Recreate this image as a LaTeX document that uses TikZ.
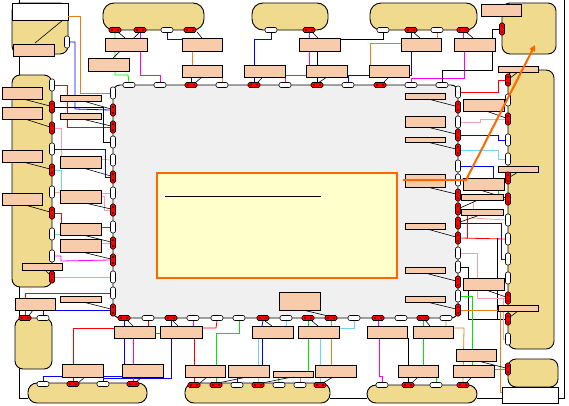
\documentclass[tikz,border=0pt]{standalone}
\usetikzlibrary{fit,arrows.meta}
\definecolor{tanc}{RGB}{240,218,142}
\definecolor{peachc}{RGB}{248,204,170}
\definecolor{grayc}{RGB}{240,240,240}
\definecolor{notec}{RGB}{255,255,204}
\definecolor{orn}{RGB}{255,102,0}
\definecolor{colO}{RGB}{230,130,20}
\definecolor{colC}{RGB}{110,215,240}
\definecolor{colP}{RGB}{245,160,170}
\definecolor{colG}{RGB}{0,230,0}
\definecolor{colM}{RGB}{255,0,255}
\pgfdeclarelayer{bglayer}
\pgfdeclarelayer{wirelayer}
\pgfsetlayers{bglayer,wirelayer,main}
\tikzset{
  tanbox/.style={draw=black, line width=0.9pt, fill=tanc, rounded corners=8pt, inner sep=0pt},
  whitebox/.style={draw=black, line width=0.9pt, fill=white, inner sep=0pt},
  corebox/.style={draw=black, line width=0.9pt, fill=grayc, rounded corners=7pt, inner sep=0pt},
  notebox/.style={draw=orn, line width=2pt, fill=notec, inner sep=0pt},
  peach/.style={draw=black, line width=0.9pt, fill=peachc, inner sep=0pt},
  redh/.style={rectangle, rounded corners=1.5pt, draw=black, line width=0.6pt, fill=red,
    minimum width=12pt, minimum height=5pt, inner sep=0pt,
    path picture={\fill[black] ([xshift=-3pt]path picture bounding box.center) circle (0.9pt);
                  \fill[black] ([xshift=3pt]path picture bounding box.center) circle (0.9pt);}},
  redv/.style={rectangle, rounded corners=1.5pt, draw=black, line width=0.6pt, fill=red,
    minimum width=5pt, minimum height=12pt, inner sep=0pt,
    path picture={\fill[black] ([yshift=-3pt]path picture bounding box.center) circle (0.9pt);
                  \fill[black] ([yshift=3pt]path picture bounding box.center) circle (0.9pt);}},
  whth/.style={rectangle, rounded corners=2pt, draw=black, line width=0.6pt, fill=white,
    minimum width=12pt, minimum height=5pt, inner sep=0pt},
  whtv/.style={rectangle, rounded corners=2pt, draw=black, line width=0.6pt, fill=white,
    minimum width=5pt, minimum height=12pt, inner sep=0pt},
  wire/.style={line width=0.8pt},
  kK/.style={wire, black}, kR/.style={wire, red}, kB/.style={wire, blue},
  kG/.style={wire, colG}, kM/.style={wire, colM}, kC/.style={wire, colC},
  kP/.style={wire, colP}, kO/.style={wire, colO},
  call/.style={line width=0.6pt, black}
}
\newcommand{\bx}[5]{\node[peach, fit={(#2,#3) (#4,#5)}] (#1) {};}
\newcommand{\prh}[3]{\node[redh] (#1) at (#2,#3) {};}
\newcommand{\prv}[3]{\node[redv] (#1) at (#2,#3) {};}
\newcommand{\pwh}[3]{\node[whth] (#1) at (#2,#3) {};}
\newcommand{\pwv}[3]{\node[whtv] (#1) at (#2,#3) {};}
\begin{document}
\begin{tikzpicture}[x=1pt,y=-1pt]
\useasboundingbox (0,0) rectangle (569,405);
\begin{pgfonlayer}{bglayer}
\fill[white] (0,0) rectangle (569,405);
% frame lines
\draw[kK] (19,0) -- (19,398) -- (28,398);
\draw[kK] (330,398) -- (367,398);
\draw[kK] (477,398) -- (502,398);
\draw[kK] (558,398) -- (564,398) -- (564,0);
% tan shapes
\node[tanbox, fit={(12,3) (68,54)}] (tlt) {};
\node[whitebox, fit={(12,3) (68,20)}] (tlh) {};
\node[tanbox, fit={(12,75) (52,287)}] (lt) {};
\node[tanbox, fit={(15,318) (52,369)}] (st) {};
\node[tanbox, rounded corners=9pt, fit={(28,383) (147,403)}] (bar1) {};
\node[tanbox, rounded corners=9pt, fit={(185,383) (330,403)}] (bar2) {};
\node[tanbox, rounded corners=9pt, fit={(367,385) (477,403)}] (bar3) {};
\node[tanbox, rounded corners=11pt, fit={(103,3) (204,30)}] (top1) {};
\node[tanbox, rounded corners=11pt, fit={(252,3) (328,30)}] (top2) {};
\node[tanbox, rounded corners=11pt, fit={(370,3) (477,30)}] (top3) {};
\node[tanbox, fit={(502,3) (556,54)}] (trt) {};
\node[tanbox, fit={(508,70) (554,349)}] (rt) {};
\node[tanbox, fit={(508,359) (558,387)}] (rbt) {};
\node[whitebox, fit={(502,387) (558,403)}] (wbr) {};
% core
\node[corebox, fit={(113,85) (458,318)}] (core) {};
\node[notebox, fit={(157,173) (397,278)}] (note) {};
\draw[kK] (165,196) -- (321,196);
\end{pgfonlayer}
% boxes
\bx{tl}{13}{44}{54}{56}
\bx{trb}{481}{4}{521}{16}
\bx{bA}{105}{38}{147}{51}\bx{bB}{88}{58}{129}{71}\bx{bC}{182}{38}{222}{51}
\bx{bD}{182}{65}{222}{77}\bx{bE}{244}{65}{285}{77}\bx{bF}{299}{38}{340}{51}
\bx{bG}{306}{65}{347}{77}\bx{bH}{369}{65}{409}{77}\bx{bI}{401}{38}{441}{51}
\bx{bJ}{454}{38}{495}{51}
\bx{lA}{2}{87}{42}{99}\bx{lB}{2}{107}{42}{119}\bx{lC}{2}{150}{42}{162}
\bx{lD}{2}{193}{42}{205}\bx{lE}{22}{263}{62}{270}
\bx{mA}{60}{95}{101}{101}\bx{mB}{60}{113}{101}{119}\bx{mC}{60}{156}{101}{168}
\bx{mD}{60}{190}{101}{203}\bx{mE}{60}{223}{101}{235}\bx{mF}{60}{239}{101}{252}
\bx{mG}{60}{296}{101}{302}\bx{mH}{15}{298}{55}{310}
\bx{iA}{405}{93}{445}{99}\bx{iB}{405}{116}{445}{127}\bx{iC}{405}{137}{445}{142}
\bx{iD}{405}{174}{445}{187}\bx{iE}{405}{223}{445}{229}\bx{iF}{405}{267}{445}{273}
\bx{iG}{405}{296}{445}{302}\bx{iH}{279}{292}{320}{310}
\bx{rA}{498}{66}{538}{72}\bx{rB}{463}{99}{504}{111}\bx{rC}{498}{166}{538}{172}
\bx{rD}{463}{178}{504}{190}\bx{rE}{461}{194}{503}{200}\bx{rF}{461}{209}{503}{215}
\bx{rG}{463}{278}{504}{290}\bx{rH}{498}{305}{538}{311}\bx{rI}{456}{349}{496}{361}
\bx{dA}{114}{326}{155}{338}\bx{dB}{160}{326}{202}{338}\bx{dC}{252}{326}{293}{338}
\bx{dD}{298}{326}{339}{338}\bx{dE}{367}{326}{407}{338}\bx{dF}{413}{326}{453}{338}
\bx{eA}{62}{364}{103}{377}\bx{eB}{122}{364}{163}{377}\bx{eC}{185}{365}{225}{377}
\bx{eD}{228}{365}{269}{377}\bx{eE}{273}{371}{313}{377}\bx{eF}{315}{365}{356}{377}
\bx{eG}{398}{365}{438}{377}\bx{eH}{453}{365}{494}{377}
% ports
\prh{t1a}{115}{30}\prh{t1b}{140}{30}\pwh{t1c}{167}{30}\prh{t1d}{190}{30}
\pwh{t2a}{271}{30}\prh{t2b}{309}{30}
\pwh{t3a}{383}{30}\prh{t3b}{411}{30}\pwh{t3c}{437}{30}\prh{t3d}{463}{30}
\pwv{tlw}{67}{42}\prv{trr}{502}{29}
\pwh{gt1}{129}{85}\pwh{gt2}{160}{85}\prh{gt3}{191}{85}\pwh{gt4}{222}{85}
\prh{gt5}{254}{85}\pwh{gt6}{285}{85}\prh{gt7}{317}{85}\pwh{gt8}{348}{85}
\prh{gt9}{380}{85}\pwh{gt10}{411}{85}\pwh{gt11}{442}{85}
\pwv{gl1}{113}{93}\prv{gl2}{113}{110}\prv{gl3}{113}{127}\pwv{gl4}{113}{142}
\pwv{gl5}{113}{160}\prv{gl6}{113}{177}\pwv{gl7}{113}{193}\prv{gl8}{113}{210}
\pwv{gl9}{113}{227}\prv{gl10}{113}{243}\prv{gl11}{113}{260}\pwv{gl12}{113}{277}
\pwv{gl13}{113}{293}\prv{gl14}{113}{310}
\pwv{gr1}{458}{92}\prv{gr2}{458}{107}\pwv{gr3}{458}{122}\prv{gr4}{458}{135}
\prv{gr5}{458}{150}\pwv{gr6}{458}{166}\pwv{gr7}{458}{180}\prv{gr8}{458}{195}
\prv{gr9}{458}{209}\prv{gr10}{458}{223}\prv{gr11}{458}{238}\pwv{gr12}{458}{253}
\pwv{gr13}{458}{267}\prv{gr14}{458}{282}\pwv{gr15}{458}{296}\prv{gr16}{458}{310}
\prh{gb1}{124}{318}\pwh{gb2}{148}{318}\prh{gb3}{171}{318}\pwh{gb4}{193}{318}
\pwh{gb5}{217}{318}\pwh{gb6}{239}{318}\prh{gb7}{263}{318}\pwh{gb8}{286}{318}
\prh{gb9}{308}{318}\prh{gb10}{331}{318}\pwh{gb11}{354}{318}\prh{gb12}{378}{318}
\pwh{gb13}{401}{318}\prh{gb14}{423}{318}\pwh{gb15}{446}{318}
\pwv{ll1}{52}{85}\prv{ll2}{52}{107}\prv{ll3}{52}{128}\pwv{ll4}{52}{149}
\prv{ll5}{52}{170}\pwv{ll6}{52}{192}\prv{ll7}{52}{213}\pwv{ll8}{52}{234}
\pwv{ll9}{52}{256}\prv{ll10}{52}{277}
\prh{st1}{25}{318}\pwh{st2}{43}{318}
\pwh{b1a}{43}{384}\prh{b1b}{73}{384}\pwh{b1c}{103}{384}\prh{b1d}{133}{384}
\prh{b2a}{194}{385}\prh{b2b}{216}{385}\pwh{b2c}{237}{385}\prh{b2d}{258}{385}
\pwh{b2e}{279}{385}\pwh{b2f}{300}{385}\prh{b2g}{320}{385}
\pwh{b3a}{382}{385}\prh{b3b}{408}{385}\pwh{b3c}{436}{385}\prh{b3d}{463}{385}
\prv{rr1}{508}{80}\pwv{rr2}{508}{100}\prv{rr3}{508}{119}\pwv{rr4}{508}{140}
\pwv{rr5}{508}{159}\prv{rr6}{508}{178}\prv{rr7}{508}{199}\pwv{rr8}{508}{220}
\pwv{rr9}{508}{239}\pwv{rr10}{508}{259}\pwv{rr11}{508}{278}\prv{rr12}{508}{298}
\prv{rr13}{508}{319}\pwv{rr14}{508}{339}
\prv{rb1}{508}{369}
% ---- connectors (behind boxes and ports) ----
\begin{pgfonlayer}{wirelayer}
% top
\draw[kG] (t1a.south) |- (128,75) -- (gt1.north);
\draw[kM] (t1b.south) |- (160,75) -- (gt2.north);
\draw[kB] (t1c.south) |- (182,39);
\draw[kO] (192,51) -- (192,65);
\draw[kB] (191,77) -- (gt3.north);
\draw[kO] (222,77) -- (gt4.north);
\draw[kB] (t2a.south) |- (254,39) -- (gt5.north);
\draw[kM] (t2b.south) -- (309,65);
\draw[kM] (306,75) -| (gt6.north);
\draw[kK] (340,39) -| (t3a.south);
\draw[kK] (317,51) -- (317,65);
\draw[kK] (317,77) -- (gt7.north);
\draw[kB] (347,75) -- (369,75);
\draw[kB] (348,75) -- (gt8.north);
\draw[kO] (401,43) -| (370,65);
\draw[kB] (t3b.south) -- (411,38);
\draw[kB] (411,51) -- (411,75) -- (409,75);
\draw[kO] (t3c.south) -- (437,38);
\draw[kM] (t3d.south) -- (463,38);
\draw[kM] (464,51) -- (464,78) -- (411,78) -- (gt10.north);
\draw[kK] (gt11.north) -- (442,70) -- (492,70) -- (492,29) -- (trr.west);
% left top
\draw[kO] (tlh.east |- 0,16) -- (80,16) -- (80,93) -- (gl1.west);
\draw[kB] (tlw.east) -- (75,42) -- (75,109) -- (gl2.west);
\draw[kR] (ll1.east) -- (67,85) -- (67,127) -- (gl3.west);
\draw[kK] (ll2.east) -- (103,107) -- (103,142) -- (gl4.west);
\draw[kP] (ll3.east) -- (61,128) -- (61,156);
\draw[kP] (101,159) -- (gl5.west);
\draw[kB] (ll4.east) -- (105,149) -- (105,177) -- (gl6.west);
\draw[kC] (ll5.east) -- (61,170) -- (61,190);
\draw[kC] (101,193) -- (gl7.west);
\draw[kP] (ll6.east) -- (60,192);
\draw[kP] (101,196) -- (104,196) -- (104,210) -- (gl8.west);
\draw[kR] (ll7.east) -- (61,213) -- (61,223);
\draw[kR] (101,227) -- (gl9.west);
\draw[kC] (ll8.east) -- (60,234);
\draw[kC] (101,243) -- (gl10.west);
\draw[kM] (ll9.east) -- (61,256) -- (61,261) -- (gl11.west);
\draw[kC] (ll10.east) -- (gl12.west);
\draw[kR] (st1.north) -- (25,310);
\draw[kR] (25,298) -- (25,293) -- (gl13.west);
\draw[kB] (st2.north) -- (43,310);
\draw[kB] (55,310) -- (gl14.west);
% bottom left
\draw[kB] (gb1.south) -- (124,326);
\draw[kB] (124,338) -- (124,364);
\draw[kR] (114,328) -- (73,328) -- (73,364);
\draw[kR] (73,377) -- (b1b.north);
\draw[kR] (gb2.south) -- (148,326);
\draw[kB] (b1a.north) -- (43,376) -- (122,376);
\draw[kB] (b1c.north) -- (103,378) -- (171,378) -- (171,338);
\draw[kM] (155,333) -- (160,333);
\draw[kM] (133,338) -- (133,364);
\draw[kM] (133,377) -- (b1d.north);
\draw[kB] (gb3.south) -- (171,326);
% bottom middle
\draw[kM] (gb4.south) -- (193,326);
\draw[kR] (202,328) -- (216,328) -- (gb5.south);
\draw[kR] (194,338) -- (194,365);
\draw[kR] (194,377) -- (b2a.north);
\draw[kG] (gb6.south) -- (239,333) -- (216,333) -- (b2b.north);
\draw[kB] (gb7.south) -- (262,326);
\draw[kB] (262,338) -- (262,365);
\draw[kC] (258,338) -- (258,365);
\draw[kC] (258,377) -- (b2d.north);
\draw[kB] (b2c.north) -- (237,377);
\draw[kC] (gb8.south) -- (286,326);
\draw[kG] (gb9.south) -- (308,326);
\draw[kG] (308,338) -- (308,371);
\draw[kG] (b2e.north) -- (278,377);
\draw[kO] (gb10.south) -- (331,326);
\draw[kO] (331,338) -- (331,365);
\draw[kO] (b2f.north) -- (300,377);
\draw[kC] (320,338) -- (320,365);
\draw[kC] (320,377) -- (b2g.north);
\draw[kC] (339,328) -- (354,328) -- (gb11.south);
\draw[kM] (gb12.south) -- (378,326);
\draw[kM] (379,338) -- (379,376) -- (382,376) -- (b3a.north);
% bottom right
\draw[kG] (gb14.south) -- (423,326);
\draw[kG] (423,338) -- (423,365);
\draw[kG] (b3c.north) -- (436,377);
\draw[kK] (408,338) -- (b3b.north);
\draw[kO] (gb15.south) -- (446,328) -- (464,328) -- (b3d.north);
% right
\draw[kR] (gr1.east) -- (498,92) -- (498,80) -- (rr1.west);
\draw[kP] (gr3.east) -- (480,122) -- (480,119) -- (rr3.west);
\draw[kB] (gr4.east) -- (498,135) -- (498,140) -- (rr4.west);
\draw[kC] (gr5.east) -- (498,150) -- (498,159) -- (rr5.west);
\draw[kB] (gr6.east) -- (493,166) -- (493,178);
\draw[kG] (498,190) -- (498,199) -- (rr7.west);
\draw[kP] (473,200) -- (473,209);
\draw[kP] (472,215) -- (472,218) -- (rr8.west);
\draw[kB] (gr10.east) -- (501,223) -- (501,259) -- (rr10.west);
\draw[kR] (467,215) -- (467,238);
\draw[kR] (gr11.east) -- (rr9.west);
\draw[kK] (497,238) -- (497,319);
\draw[kK] (gr13.east) -- (468,267) -- (468,319) -- (rr13.west);
\draw[kP] (gr12.east) -- (477,253) -- (477,298) -- (rr12.west);
\draw[kG] (gr15.east) -- (472,296) -- (472,365);
\draw[kO] (gr16.east) -- (500,310) -- (500,392) -- (wbr.west |- 0,392);
\draw[kP] (503,299) -- (503,339) -- (rr14.west);
\draw[kG] (494,369) -- (rb1.west);
% callouts
\draw[call] (35,43) -- (63,20);
\draw[call] (118,32) -- (125,38);
\draw[call] (113,58) -- (140,32);
\draw[call] (197,32) -- (202,38);
\draw[call] (195,83) -- (202,77);
\draw[call] (257,83) -- (263,77);
\draw[call] (312,32) -- (318,38);
\draw[call] (318,83) -- (327,77);
\draw[call] (383,83) -- (389,77);
\draw[call] (413,32) -- (420,38);
\draw[call] (466,32) -- (473,38);
\draw[call] (510,78) -- (518,72);
\draw[call] (428,99) -- (455,106);
\draw[call] (427,127) -- (456,134);
\draw[call] (427,142) -- (456,149);
\draw[call] (486,111) -- (506,118);
\draw[call] (518,172) -- (510,177);
\draw[call] (427,187) -- (456,194);
\draw[call] (480,190) -- (506,198);
\draw[call] (478,200) -- (460,208);
\draw[call] (480,215) -- (460,222);
\draw[call] (427,229) -- (456,237);
\draw[call] (425,273) -- (456,281);
\draw[call] (486,290) -- (506,297);
\draw[call] (427,302) -- (456,309);
\draw[call] (518,311) -- (510,317);
\draw[call] (478,361) -- (506,368);
\draw[call] (412,383) -- (418,377);
\draw[call] (466,383) -- (472,377);
\draw[call] (425,320) -- (430,326);
\draw[call] (128,321) -- (133,326);
\draw[call] (173,321) -- (178,326);
\draw[call] (265,321) -- (272,326);
\draw[call] (312,321) -- (318,326);
\draw[call] (303,310) -- (328,316);
\draw[call] (78,383) -- (85,377);
\draw[call] (135,383) -- (142,377);
\draw[call] (200,383) -- (207,377);
\draw[call] (218,383) -- (247,377);
\draw[call] (262,383) -- (292,377);
\draw[call] (323,383) -- (333,377);
\draw[call] (23,99) -- (50,106);
\draw[call] (25,119) -- (50,127);
\draw[call] (83,101) -- (111,109);
\draw[call] (82,119) -- (111,126);
\draw[call] (23,162) -- (50,169);
\draw[call] (25,205) -- (50,212);
\draw[call] (83,168) -- (111,176);
\draw[call] (85,203) -- (111,209);
\draw[call] (83,235) -- (111,242);
\draw[call] (82,252) -- (111,259);
\draw[call] (45,270) -- (51,276);
\draw[call] (83,302) -- (111,309);
\draw[call] (28,317) -- (33,310);
\end{pgfonlayer}
% orange arrow
\coordinate (oa) at (403,180);
\coordinate (ob) at (466,180);
\coordinate (oc) at (535,45);
\draw[orn, line width=2pt, -{Triangle[length=6pt,width=6pt]}] (oa) -- (ob) -- (oc);
\end{tikzpicture}
\end{document}
